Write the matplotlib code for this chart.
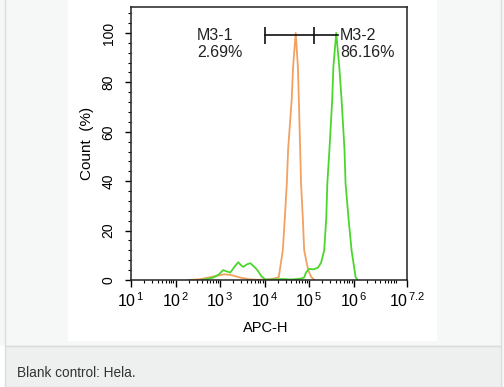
import matplotlib
matplotlib.use("Agg")
import matplotlib.pyplot as plt
import numpy as np
from matplotlib.patches import Rectangle
from matplotlib.ticker import FixedLocator, LogLocator, MultipleLocator, NullFormatter

plt.rcParams["font.family"] = ["Liberation Sans", "DejaVu Sans"]
plt.rcParams["mathtext.fontset"] = "custom"
plt.rcParams["mathtext.rm"] = "Liberation Sans"
plt.rcParams["mathtext.it"] = "Liberation Sans:italic"

W, H = 504, 387

# --- Daten (x als log10 der APC-H Intensitaet, y in %) ---
orange_log = [2.30, 2.55, 2.75, 2.95, 3.10, 3.25, 3.45, 3.65, 3.85, 4.05, 4.20,
              4.32, 4.41, 4.455, 4.50, 4.53, 4.61, 4.64, 4.70, 4.75, 4.77, 4.80,
              4.82, 4.86, 4.89, 4.98, 5.05, 5.12]
orange_pct = [0, 0.3, 1.0, 1.8, 2.3, 2.0, 1.0, 0.3, 0.1, 0.2, 0.5,
              1.2, 12, 25, 39, 53, 73, 86, 100, 86, 73, 53,
              39, 25, 12, 4, 1.2, 0]

green_log = [2.55, 2.66, 2.85, 2.97, 3.07, 3.15, 3.23, 3.33, 3.41, 3.47, 3.52,
             3.60, 3.68, 3.76, 3.84, 3.93, 4.02, 4.2, 4.4, 4.6, 4.8, 4.89,
             4.93, 5.0, 5.1, 5.20, 5.27, 5.34, 5.386, 5.41, 5.455, 5.52, 5.545,
             5.61, 5.68, 5.73, 5.795, 5.82, 5.886, 5.955, 6.045, 6.09]
green_pct = [0, 0.2, 1.0, 2.2, 4.0, 3.5, 3.0, 5.5, 7.2, 6.0, 5.3,
             6.3, 6.8, 5.5, 4.0, 1.5, 0.2, 0.2, 0.4, 0.2, 0.5, 1.0,
             3.0, 4.5, 4.3, 5.0, 7.0, 12, 25, 39, 52, 73, 86,
             100, 86, 73, 53, 39, 25, 12, 1.2, 0]

# Marker M3-1 / M3-2
marker_y = 99
marker_log = [4.02, 5.11, 5.66]
marker_labels = ["M3-1\n2.69%", "M3-2\n86.16%"]
marker_text_log = [2.48, 5.70]

tick_exp = [1, 2, 3, 4, 5, 6, 7.2]
tick_labels = [r"$\mathregular{10^{\,1}}$", r"$\mathregular{10^{\,2}}$",
               r"$\mathregular{10^{\,3}}$", r"$\mathregular{10^{\,4}}$",
               r"$\mathregular{10^{\,5}}$", r"$\mathregular{10^{\,6}}$",
               r"$\mathregular{10^{\,7.2}}$"]

fig = plt.figure(figsize=(W / 100, H / 100), dpi=100)
fig.patch.set_facecolor("#f6f8f8")


def px_rect(x0, y0, x1, y1, **kw):
    # Pixelkoordinaten (oben links) -> Figure
    fig.patches.append(Rectangle((x0 / W, 1 - y1 / H), (x1 - x0) / W, (y1 - y0) / H,
                                 transform=fig.transFigure, zorder=-10, **kw))


px_rect(0, 346, 5, H, facecolor="white", edgecolor="none")
px_rect(5, 346, 501, H, facecolor="#eef0f0", edgecolor="#dadddd", linewidth=1)
px_rect(5, -2, 501, 346, facecolor="none", edgecolor="#dadddd", linewidth=1)
px_rect(68, 0, 437, 341, facecolor="white", edgecolor="none")

fig.text(17 / W, 1 - 373 / H, "Blank control: Hela.", fontsize=9.8, color="#333333",
         va="center", ha="left")

ax = fig.add_axes([131 / W, 1 - 280 / H, 276 / W, 273 / H])
ax.set_facecolor("white")
ax.set_zorder(5)

ax.plot(np.power(10.0, orange_log), orange_pct, color="#f2a160", lw=1.3)
ax.plot(np.power(10.0, green_log), green_pct, color="#4cd62c", lw=1.3)

mx = np.power(10.0, marker_log)
ax.plot([mx[0], mx[2]], [marker_y, marker_y], color="#111111", lw=1.2)
ax.vlines(mx[:2], marker_y - 3.4, marker_y + 3.4, color="#111111", lw=1.2)

for lab, xl in zip(marker_labels, marker_text_log):
    ax.text(10 ** xl, 95.5, lab, fontsize=11.5, ha="left", va="center",
            color="#222222", linespacing=1.15,
            bbox=dict(facecolor="white", edgecolor="none", pad=0.5))

ax.set_xscale("log")
ax.set_xlim(10 ** 1, 10 ** 7.2)
ax.set_ylim(0, 110.5)

ax.xaxis.set_major_locator(FixedLocator(np.power(10.0, tick_exp)))
ax.set_xticklabels(tick_labels, fontsize=11.5)
ax.xaxis.set_minor_locator(LogLocator(base=10, subs=np.arange(2, 10), numticks=20))
ax.xaxis.set_minor_formatter(NullFormatter())

ax.yaxis.set_major_locator(MultipleLocator(20))
ax.yaxis.set_minor_locator(MultipleLocator(4))
ax.tick_params(axis="y", which="major", labelsize=10, labelrotation=90, length=4, width=1, pad=7)
ax.tick_params(axis="y", which="minor", length=2, width=0.8)
ax.tick_params(axis="x", which="major", length=5, width=1, pad=3)
ax.tick_params(axis="x", which="minor", length=2.5, width=0.8)
for lab in ax.get_yticklabels():
    lab.set_va("center")

for s in ax.spines.values():
    s.set_linewidth(1.1)
    s.set_color("#222222")

ax.set_ylabel("Count  (%)", fontsize=11)
ax.yaxis.set_label_coords(-0.135, 0.5)
ax.set_xlabel("APC-H", fontsize=10.5)
ax.xaxis.set_label_coords(0.487, -0.15)

fig.savefig("out.png", dpi=100, facecolor=fig.get_facecolor())
